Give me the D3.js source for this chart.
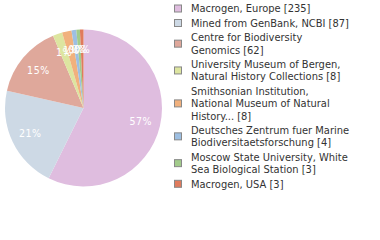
<!DOCTYPE html>
<html>
<head>
<meta charset="utf-8">
<script src="https://cdn.jsdelivr.net/npm/d3@7"></script>
<style>
  body { margin: 0; background: #fff; }
  svg { display: block; }
  text { font-family: "DejaVu Sans Condensed", "DejaVu Sans", sans-serif; }
</style>
</head>
<body>
<div id="chart"></div>
<script>
// data
const labels = [
  ["Macrogen, Europe [235]"],
  ["Mined from GenBank, NCBI [87]"],
  ["Centre for Biodiversity", "Genomics [62]"],
  ["University Museum of Bergen,", "Natural History Collections [8]"],
  ["Smithsonian Institution,", "National Museum of Natural", "History... [8]"],
  ["Deutsches Zentrum fuer Marine", "Biodiversitaetsforschung [4]"],
  ["Moscow State University, White", "Sea Biological Station [3]"],
  ["Macrogen, USA [3]"]
];
const counts = [235, 87, 62, 8, 8, 4, 3, 3];
const colors = ["#dfbddf", "#cdd9e5", "#dfa89b", "#dde5a0", "#f1b17d", "#9dbfe2", "#a2cb8b", "#e07b5d"];

const width = 380, height = 240;
const cx = 83.5, cy = 108, radius = 78.5;

const svg = d3.select("#chart").append("svg")
  .attr("width", width)
  .attr("height", height);

const total = d3.sum(counts);
const pie = d3.pie().sort(null).value(d => d)(counts);
const arc = d3.arc().innerRadius(0).outerRadius(radius);
const labelArc = d3.arc().innerRadius(radius * 0.75).outerRadius(radius * 0.75);

const g = svg.append("g").attr("transform", `translate(${cx},${cy})`);

g.selectAll("path")
  .data(pie)
  .join("path")
    .attr("d", arc)
    .attr("fill", (d, i) => colors[i]);

// percentage labels (small slices overlap at the top, as in the original)
g.selectAll("text")
  .data(pie)
  .join("text")
    .attr("transform", d => `translate(${labelArc.centroid(d)})`)
    .attr("text-anchor", "middle")
    .attr("dy", "0.35em")
    .attr("fill", "#fff")
    .style("font-size", "10.5px")
    .style("letter-spacing", "0.5px")
    .text(d => Math.floor(d.value / total * 100) + "%");

// legend
const lineH = 12.3, gap = 14.5;
let y = 8.5;
const legend = svg.append("g");
labels.forEach((lines, i) => {
  const mid = y + (lines.length - 1) * lineH / 2;
  legend.append("rect")
    .attr("x", 174.5).attr("y", mid - 3.5)
    .attr("width", 7).attr("height", 7)
    .attr("fill", colors[i])
    .attr("stroke", "#888")
    .attr("stroke-width", 1);
  lines.forEach((t, j) => {
    legend.append("text")
      .attr("x", 191)
      .attr("y", y + j * lineH)
      .attr("dy", "0.35em")
      .attr("fill", "#333")
      .style("font-size", "11px")
      .text(t);
  });
  y += (lines.length - 1) * lineH + gap;
});
</script>
</body>
</html>
